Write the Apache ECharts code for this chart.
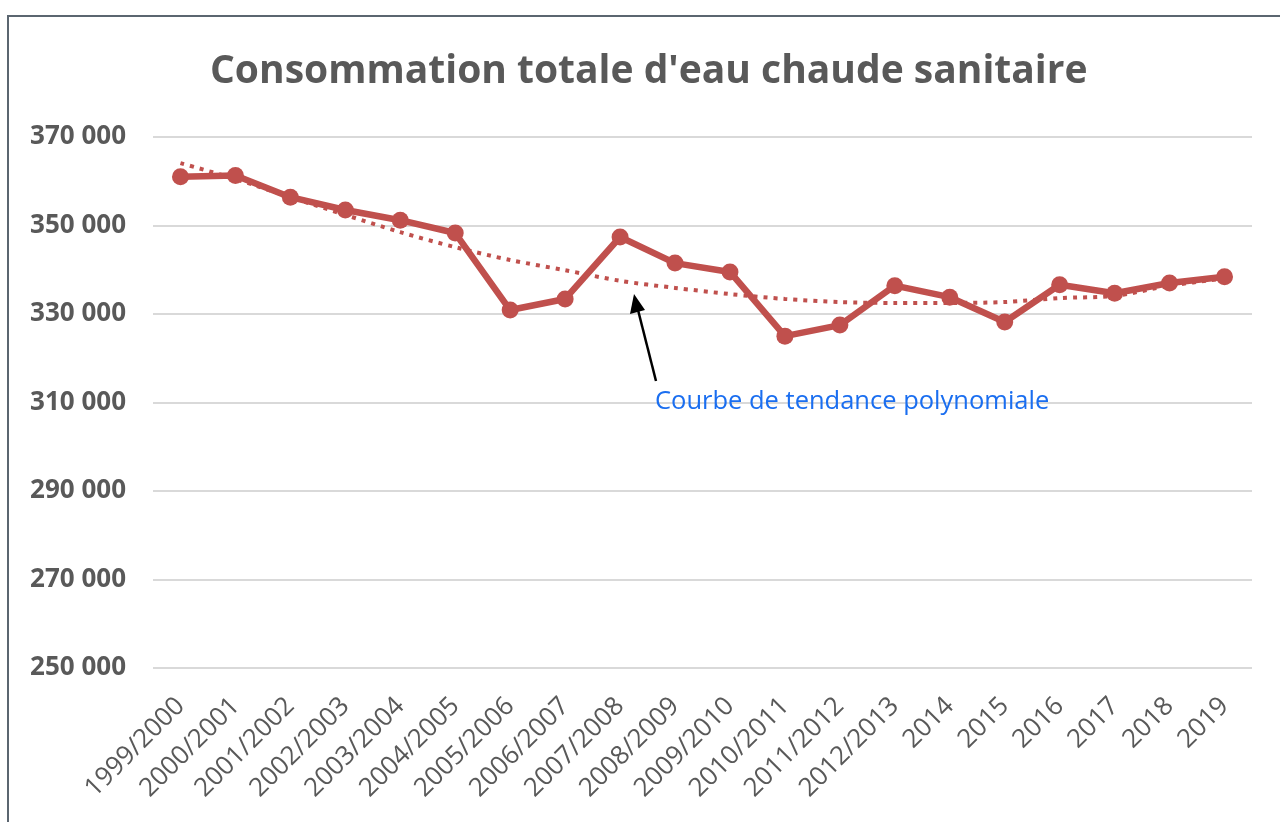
<!DOCTYPE html>
<html>
<head>
<meta charset="utf-8">
<script src="https://cdn.jsdelivr.net/npm/echarts@6/dist/echarts.min.js"></script>
<style>
  html, body { margin: 0; padding: 0; background: #fff; }
  #chart { width: 1280px; height: 822px; }
</style>
</head>
<body>
<div id="chart"></div>
<script>
// saisons / années
const categories = [
  "1999/2000", "2000/2001", "2001/2002", "2002/2003", "2003/2004",
  "2004/2005", "2005/2006", "2006/2007", "2007/2008", "2008/2009",
  "2009/2010", "2010/2011", "2011/2012", "2012/2013", "2014",
  "2015", "2016", "2017", "2018", "2019"
];
// consommation totale
const consommation = [
  361000, 361300, 356400, 353500, 351200,
  348300, 330900, 333400, 347400, 341500,
  339500, 325000, 327500, 336400, 333800,
  328200, 336600, 334700, 337000, 338400
];
// courbe de tendance polynomiale
const tendance = [
  364100, 360500, 356400, 352400, 348500,
  345100, 342200, 339900, 337500, 335900,
  334500, 333400, 332700, 332500, 332500,
  332700, 333600, 334100, 336400, 338000
];
const yTicks = { min: 250000, max: 370000, interval: 20000 };

const red = "#c0504d";
const grey = "#595959";

let chart = echarts.init(document.getElementById("chart"));
chart.setOption({
  animation: false,
  title: {
    text: "Consommation totale d'eau chaude sanitaire",
    left: 205,
    top: 47,
    textStyle: {
      fontFamily: "Open Sans",
      fontSize: 39,
      fontWeight: "bold",
      color: grey
    }
  },
  grid: {
    left: 153,
    right: 28,
    top: 137,
    bottom: 154
  },
  xAxis: {
    type: "category",
    data: categories,
    boundaryGap: true,
    axisLine: { show: false },
    axisTick: { show: false },
    axisLabel: {
      rotate: 45,
      interval: 0,
      margin: 34,
      fontFamily: "Open Sans",
      fontSize: 26,
      color: grey
    }
  },
  yAxis: {
    type: "value",
    min: yTicks.min,
    max: yTicks.max,
    interval: yTicks.interval,
    axisLine: { show: false },
    axisTick: { show: false },
    splitLine: { lineStyle: { color: "#d9d9d9", width: 2 } },
    axisLabel: {
      margin: 27,
      fontFamily: "Open Sans",
      fontSize: 26,
      fontWeight: "bold",
      color: grey,
      formatter: v => String(v).replace(/\B(?=(\d{3})+(?!\d))/g, " ")
    }
  },
  series: [
    {
      name: "Tendance",
      type: "line",
      data: tendance,
      smooth: 0.3,
      showSymbol: false,
      z: 1,
      lineStyle: { color: red, width: 4, type: [4, 6], cap: "butt" }
    },
    {
      name: "Consommation",
      type: "line",
      data: consommation,
      symbol: "circle",
      symbolSize: 17,
      z: 2,
      itemStyle: { color: red },
      lineStyle: { color: red, width: 6.5 }
    }
  ],
  graphic: [
    {
      // cadre
      type: "rect",
      shape: { x: 8, y: 16, width: 1400, height: 1000 },
      style: { fill: null, stroke: "#5b6670", lineWidth: 2 },
      silent: true
    },
    {
      type: "line",
      shape: { x1: 656, y1: 381, x2: 638, y2: 310 },
      style: { stroke: "#000", lineWidth: 2.5 },
      z: 10
    },
    {
      type: "polygon",
      shape: { points: [[634, 294], [630, 314], [645, 310]] },
      style: { fill: "#000" },
      z: 10
    },
    {
      type: "text",
      left: 655,
      top: 389,
      style: {
        text: "Courbe de tendance polynomiale",
        fontFamily: "Open Sans",
        fontSize: 25.5,
        fill: "#1a6ef0"
      },
      z: 10
    }
  ]
});
</script>
</body>
</html>
